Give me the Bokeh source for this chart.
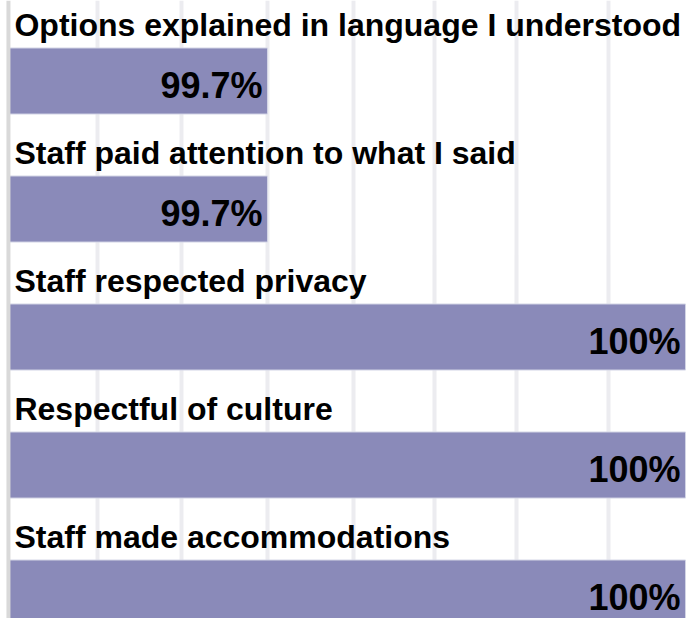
from bokeh.plotting import figure
from bokeh.models import Range1d, ColumnDataSource, FixedTicker, Span
from bokeh.core.properties import value
from bokeh.embed import file_html
from bokeh.resources import INLINE

categories = [
    "Options explained in language I understood",
    "Staff paid attention to what I said",
    "Staff respected privacy",
    "Respectful of culture",
    "Staff made accommodations",
]
values = [99.7, 99.7, 100, 100, 100]
value_labels = ["99.7%", "99.7%", "100%", "100%", "100%"]
grid_ticks = [99.578, 99.638, 99.70, 99.762, 99.820, 99.879, 99.945]

x_base = 99.5141
x_start = 99.5084
x_end = 100.0007

idx = list(range(len(categories)))
src = ColumnDataSource(dict(
    y=idx,
    left=[x_base] * len(idx),
    right=values,
    label_y=[i - 0.44 for i in idx],
    label_x=[x_base] * len(idx),
    cat=categories,
    vlab=value_labels,
))

p = figure(width=686, height=618, output_backend="svg", toolbar_location=None,
           x_range=Range1d(x_start, x_end), y_range=Range1d(4.199, -0.629),
           min_border=0, min_border_left=0, min_border_right=0,
           min_border_top=0, min_border_bottom=0)
p.outline_line_color = None
p.xaxis.visible = False
p.yaxis.visible = False
p.ygrid.grid_line_color = None
p.xgrid.ticker = FixedTicker(ticks=grid_ticks)
p.xgrid.grid_line_color = "#ececf0"
p.xgrid.grid_line_width = 4

p.hbar(y="y", left="left", right="right", height=0.516, source=src,
       fill_color="#8a8ab9", line_color="#d4d6e6", line_width=1)

p.add_layout(Span(location=x_base, dimension="height", line_color="#d9d9d9", line_width=4))

p.text(x="label_x", y="label_y", text="cat", source=src, x_offset=6,
       text_font=value("Liberation Sans"), text_font_style="bold",
       text_font_size="32px", text_color="#000000",
       text_align="left", text_baseline="middle")

p.text(x="right", y="y", text="vlab", source=src, x_offset=-5, y_offset=4,
       text_font=value("Liberation Sans"), text_font_style="bold",
       text_font_size="36px", text_color="#000000",
       text_align="right", text_baseline="middle")

open("out.html", "w").write(file_html(p, INLINE))
